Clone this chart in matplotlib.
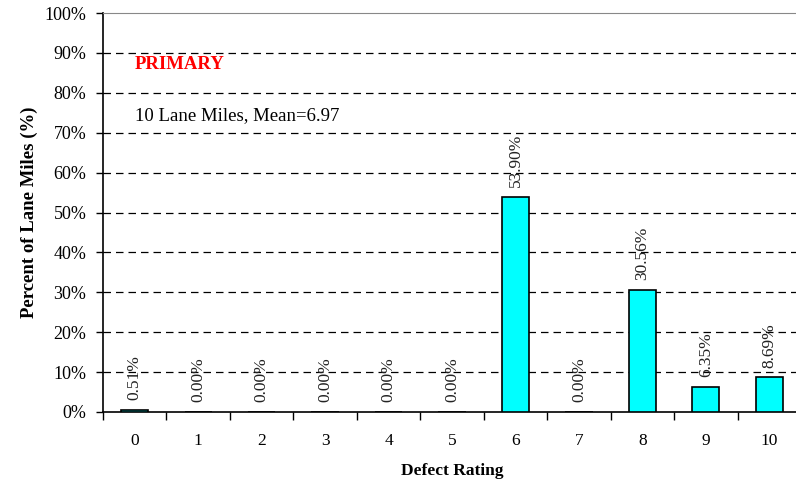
import numpy as np
import matplotlib.pyplot as plt

plt.rcParams['font.family'] = ['Liberation Serif', 'DejaVu Serif']

ratings = [0, 1, 2, 3, 4, 5, 6, 7, 8, 9, 10]
percents = [0.51, 0.00, 0.00, 0.00, 0.00, 0.00, 53.90, 0.00, 30.56, 6.35, 8.69]
y_ticks = [0, 10, 20, 30, 40, 50, 60, 70, 80, 90, 100]

fig = plt.figure(figsize=(7.96, 4.82), dpi=100)
ax = fig.add_axes([103 / 796, 70 / 482, 698 / 796, 399 / 482])

x = np.arange(len(ratings))
ax.bar(x, percents, width=0.43, color='#00FFFF', edgecolor='black', linewidth=1.2, zorder=3)

# etiketes pano apo kathe bara
for xi, v in zip(x, percents):
    ax.annotate(f"{v:.2f}%", (xi, v), xytext=(0, 7), textcoords='offset points',
                rotation=90, ha='center', va='bottom', fontsize=12.5,
                color='#222222', zorder=4)

ax.set_xlim(-0.5, len(ratings) - 0.5)
ax.set_ylim(0, 100)
ax.set_yticks(y_ticks)
ax.set_yticklabels([f"{t}%" for t in y_ticks], fontsize=13)
ax.set_xticks(x)
ax.set_xticklabels([str(r) for r in ratings], fontsize=12.5)
ax.set_xticks(np.arange(-0.5, len(ratings), 1.0), minor=True)
ax.tick_params(axis='x', which='major', length=0, pad=15)
ax.tick_params(axis='x', which='minor', length=6, width=1, direction='out')
ax.tick_params(axis='y', length=5, width=1, direction='out', pad=7)

for t in y_ticks[1:-1]:
    ax.axhline(t, color='black', linestyle=(0, (6, 4)), linewidth=0.9, zorder=1)

ax.spines['top'].set_color('#888888')
ax.spines['right'].set_visible(False)
ax.spines['left'].set_linewidth(1.2)
ax.spines['bottom'].set_linewidth(1.2)

ax.text(0.046, 0.87, "PRIMARY", transform=ax.transAxes, color='red',
        fontsize=13.5, fontweight='bold', va='center')
ax.text(0.046, 0.744, "10 Lane Miles, Mean=6.97", transform=ax.transAxes,
        fontsize=13.5, va='center')

ax.set_xlabel("Defect Rating", fontsize=12.5, fontweight='bold', labelpad=10)
ax.set_ylabel("Percent of Lane Miles (%)", fontsize=13.5, fontweight='bold', labelpad=5)

fig.savefig("out.png", dpi=100)
